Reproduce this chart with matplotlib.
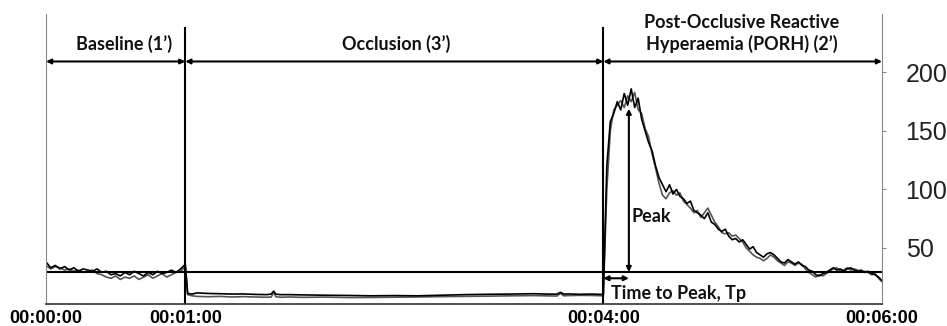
import matplotlib
matplotlib.use("Agg")
import matplotlib.pyplot as plt

# time in seconds, flux values
t_base = [0, 2, 4, 6, 8, 10, 12, 14, 16, 18, 20, 22, 24, 26, 28, 30, 32, 34, 36, 38,
          40, 42, 44, 46, 48, 50, 52, 54, 56, 58, 60]
a_base = [38, 33, 35, 32, 34, 31, 33, 30, 32, 31, 30, 32, 29, 30, 27, 28, 26, 29, 27, 30,
          28, 26, 29, 27, 30, 28, 29, 31, 29, 32, 36]
b_base = [35, 32, 34, 33, 31, 32, 30, 31, 29, 30, 31, 28, 27, 25, 24, 26, 23, 25, 24, 26,
          23, 25, 27, 24, 26, 28, 25, 27, 29, 30, 34]

t_occ = [61, 63, 65, 70, 75, 80, 85, 90, 95, 97, 98, 99, 101, 105, 110, 120, 130, 140, 150,
         160, 170, 180, 190, 200, 210, 215, 220, 221.5, 223, 225, 230, 235, 239.5]
a_occ = [11, 10.5, 11.5, 11, 10.8, 10.5, 10.6, 10.2, 10, 10.5, 13, 10.4, 10, 10, 9.8, 9.5, 9.3,
         9, 9.2, 9, 9.5, 10, 10.3, 10.5, 10.8, 10.5, 10.4, 12, 10.5, 10.6, 10.3, 10.5, 10.2]
b_occ = [10, 9, 8.5, 8.2, 8.5, 8, 8.3, 8, 7.8, 8, 12, 8.2, 7.8, 8, 7.7, 7.9, 7.5, 7.6, 7.8,
         8, 8.3, 8.5, 8.7, 9, 9.2, 9, 8.8, 11, 9, 9.2, 9.4, 9.3, 9]

t_porh = [240, 241.5, 243, 244.5, 246, 247.5, 249, 250.5, 252, 253.5, 255, 256.5, 258, 259.5,
          261, 262.5, 264, 265.5, 267, 268.5, 270, 271.5, 273, 274.5, 276, 277.5, 279, 280.5,
          282, 283.5, 285, 286.5, 288, 289.5, 291, 292.5, 294, 295.5, 297, 298.5, 300, 301.5,
          303, 304.5, 306, 307.5, 309, 310.5, 312, 313.5, 315, 316.5, 318, 319.5, 321, 322.5,
          324, 325.5, 327, 328.5, 330, 331.5, 333, 334.5, 336, 337.5, 339, 340.5, 342, 343.5,
          345, 346.5, 348, 349.5, 351, 352.5, 354, 355.5, 357, 358.5, 360]
a_porh = [10, 120, 158, 165, 175, 168, 182, 172, 186, 170, 178, 160, 150, 140,
          133, 120, 110, 104, 98, 104, 96, 100, 94, 92, 88, 90, 82, 80,
          78, 75, 80, 72, 70, 66, 64, 66, 60, 57, 58, 55, 57, 53,
          49, 51, 46, 44, 42, 45, 46, 44, 41, 38, 37, 40, 38, 36,
          38, 35, 34, 31, 30, 27, 26, 28, 29, 31, 33, 31, 32, 30,
          32, 33, 31, 30, 31, 29, 30, 28, 27, 25, 22]
b_porh = [9, 100, 150, 168, 172, 176, 170, 180, 175, 183, 168, 165, 152, 145,
          130, 118, 105, 95, 92, 97, 99, 95, 97, 90, 87, 84, 80, 82,
          76, 80, 84, 78, 72, 68, 63, 62, 63, 60, 61, 58, 55, 50,
          47, 44, 42, 41, 39, 41, 44, 42, 39, 37, 35, 38, 37, 35,
          37, 36, 32, 29, 27, 25, 27, 26, 28, 30, 32, 33, 30, 31,
          33, 31, 32, 31, 29, 30, 29, 27, 28, 24, 21]

x_ticks = [0, 60, 240, 360]
x_labels = ["00:00:00", "00:01:00", "00:04:00", "00:06:00"]
y_ticks = [50, 100, 150, 200]
baseline_level = 29.3

label_font = "Lato"

fig = plt.figure(figsize=(9.47, 3.26), dpi=100)
ax = fig.add_axes([46 / 947, 22 / 326, 836 / 947, 290 / 326])

ax.plot(t_base + t_occ + t_porh, b_base + b_occ + b_porh, color="#555555", lw=1.2)
ax.plot(t_base + t_occ + t_porh, a_base + a_occ + a_porh, color="black", lw=1.2)

ax.set_xlim(0, 360)
ax.set_ylim(2, 250)

# spines
ax.spines["top"].set_visible(False)
for side in ("left", "right"):
    ax.spines[side].set_color("#888888")
    ax.spines[side].set_linewidth(0.8)
ax.spines["bottom"].set_color("#333333")
ax.spines["bottom"].set_linewidth(1.2)

ax.yaxis.tick_right()
ax.set_yticks(y_ticks)
ax.tick_params(axis="y", direction="out", length=3, color="#888888", pad=14,
               labelsize=18, labelcolor="#222222")
for lab in ax.get_yticklabels():
    lab.set_fontfamily("Liberation Sans")

ax.set_xticks(x_ticks)
ax.set_xticklabels(x_labels, fontfamily="Liberation Sans", fontweight="bold", fontsize=13)
ax.tick_params(axis="x", length=0, pad=4)

# phase separators and baseline
ax.plot([60, 60], [2, 238], color="black", lw=1.5)
ax.plot([240, 240], [2, 238], color="black", lw=1.5)
ax.axhline(baseline_level, color="black", lw=1.5)

arrow = dict(arrowstyle="<|-|>", color="black", lw=1.5, mutation_scale=7,
             shrinkA=0, shrinkB=0)
arrow_y = 209.4
for x0, x1 in [(0, 60), (60, 240), (240, 360)]:
    ax.annotate("", xy=(x1, arrow_y), xytext=(x0, arrow_y), arrowprops=arrow)

# peak and time to peak
ax.annotate("", xy=(251, baseline_level), xytext=(251, 169), arrowprops=arrow)
ax.annotate("", xy=(251, 24), xytext=(240, 24), arrowprops=arrow)

txt = dict(fontfamily=label_font, fontweight="bold", fontsize=13, color="#111111")
ax.text(33.6, 224, "Baseline (1\u2019)", ha="center", va="center", **txt)
ax.text(151, 224, "Occlusion (3\u2019)", ha="center", va="center", **txt)
ax.text(299.7, 243, "Post-Occlusive Reactive", ha="center", va="center", clip_on=False, **txt)
ax.text(299.7, 224, "Hyperaemia (PORH) (2\u2019)", ha="center", va="center", **txt)
ax.text(252, 77, "Peak", ha="left", va="center", **txt)
ax.text(243.3, 11, "Time to Peak, Tp", ha="left", va="center", **txt)

fig.savefig("out.png", dpi=100)
